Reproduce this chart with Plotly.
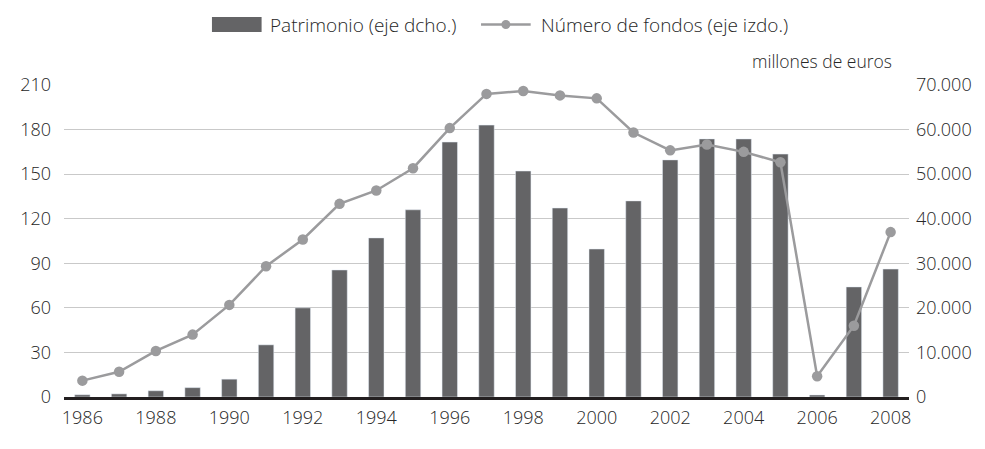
import plotly.graph_objects as go

years = list(range(1986, 2009))
patrimonio = [500, 700, 1400, 2100, 4000, 11700, 20000, 28500, 35700, 42000, 57200, 61000,
              50700, 42400, 33200, 44000, 53200, 57900, 57900, 54500, 450, 24700, 28700]
num_fondos = [11, 17, 31, 42, 62, 88, 106, 130, 139, 154, 181, 204,
              206, 203, 201, 178, 166, 170, 165, 158, 14, 48, 111]
left_ticks = [0, 30, 60, 90, 120, 150, 180, 210]
right_ticks = [0, 10000, 20000, 30000, 40000, 50000, 60000, 70000]
x_ticks = list(range(1986, 2009, 2))

BAR = "#646466"
LINE = "#9b9b9d"
TXT = "#262626"
FONT = "Open Sans"
WEIGHT = 300

OFF = 8  # page body margin
W, H = 985 - OFF, 449 - OFF
# screen-pixel plot box
SL, SR, ST, SB = 58, 909, 85, 397
L, T = SL - OFF, ST - OFF
R, B = W - (SR - OFF), H - (SB - OFF)
pw, ph = SR - SL, SB - ST

def px(x):
    return (x - SL) / pw

def py(y):
    return (SB - y) / ph

fig = go.Figure()
fig.add_trace(go.Bar(x=years, y=patrimonio, marker_color=BAR, width=0.42,
                     name="Patrimonio (eje dcho.)", yaxis="y", showlegend=False))
fig.add_trace(go.Scatter(x=years, y=num_fondos, mode="lines+markers",
                         line=dict(color=LINE, width=2.5),
                         marker=dict(color=LINE, size=10.5),
                         name="Número de fondos (eje izdo.)", yaxis="y2", showlegend=False))

tf = dict(size=18, color=TXT, family=FONT, weight=WEIGHT)
fig.update_layout(
    width=W, height=H,
    margin=dict(l=L, r=R, t=T, b=B),
    plot_bgcolor="white", paper_bgcolor="white",
    separators=",.",
    font=dict(family=FONT, size=16, color=TXT, weight=WEIGHT),
    xaxis=dict(range=[1985.5, 2008.5], tickmode="array", tickvals=x_ticks,
               ticktext=[str(v) for v in x_ticks], showgrid=False, zeroline=False,
               showline=True, linecolor="#231f20", linewidth=2.5,
               tickfont=tf, ticks="", ticklabelstandoff=3),
    yaxis=dict(side="right", range=[0, 70000], tickmode="array", tickvals=right_ticks,
               tickformat=",d", showgrid=True, gridcolor="#c9c9c9", gridwidth=1,
               zeroline=False, showline=False, ticks="",
               tickfont=tf, ticklabelstandoff=6),
    yaxis2=dict(side="left", overlaying="y", range=[0, 210], tickmode="array",
                tickvals=left_ticks, showgrid=False, zeroline=False, showline=False,
                ticks="", tickfont=tf, ticklabelstandoff=12),
)

# legend drawn manually (screen pixel positions)
shapes = [
    dict(type="rect", xref="paper", yref="paper",
         x0=px(207), x1=px(257), y0=py(32), y1=py(17),
         fillcolor=BAR, line=dict(width=0)),
    dict(type="line", xref="paper", yref="paper",
         x0=px(478), x1=px(528), y0=py(24.5), y1=py(24.5),
         line=dict(color=LINE, width=2.5)),
    dict(type="circle", xref="paper", yref="paper",
         x0=px(498.5), x1=px(507.5), y0=py(29), y1=py(20),
         fillcolor=LINE, line=dict(width=0)),
]
fig.update_layout(shapes=shapes)

ann = [
    dict(text="Patrimonio (eje dcho.)", x=px(263), y=py(24.5), xanchor="left", yanchor="middle", size=19),
    dict(text="Número de fondos (eje izdo.)", x=px(536), y=py(24.5), xanchor="left", yanchor="middle", size=19),
    dict(text="millones de euros", x=px(894), y=py(61), xanchor="right", yanchor="middle", size=17.5),
]
for a in ann:
    size = a.pop("size")
    fig.add_annotation(xref="paper", yref="paper", showarrow=False,
                       font=dict(size=size, color=TXT, family=FONT, weight=WEIGHT), **a)

fig.write_html("out.html")
